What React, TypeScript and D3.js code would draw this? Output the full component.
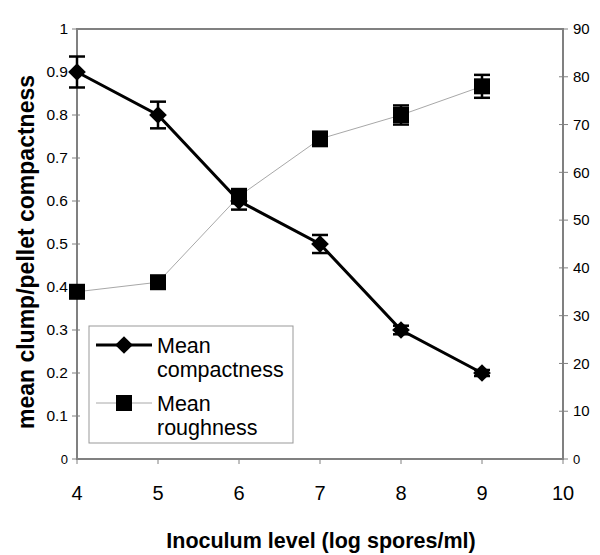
import * as d3 from "d3";

const inoculum = [4, 5, 6, 7, 8, 9];
const compactness = [0.9, 0.8, 0.6, 0.5, 0.3, 0.2];
const compactnessErr = [0.036, 0.031, 0.02, 0.021, 0.01, 0.007];
const roughness = [35, 37, 55, 67, 72, 78];
const roughnessErr = [0, 0, 1.5, 1.5, 2, 2.4];
const xTicks = [4, 5, 6, 7, 8, 9, 10];
const leftTicks = [0, 0.1, 0.2, 0.3, 0.4, 0.5, 0.6, 0.7, 0.8, 0.9, 1];
const rightTicks = [0, 10, 20, 30, 40, 50, 60, 70, 80, 90];

const W = 600;
const H = 555;
const PLOT = { left: 77, right: 563, top: 29, bottom: 459 };
const FONT = "Liberation Sans, Arial, sans-serif";
const FRAME = "#808080";

const x = d3.scaleLinear().domain([4, 10]).range([PLOT.left, PLOT.right]);
const yL = d3.scaleLinear().domain([0, 1]).range([PLOT.bottom, PLOT.top]);
const yR = d3.scaleLinear().domain([0, 90]).range([PLOT.bottom, PLOT.top]);

const diamond = d3.symbol().type(d3.symbolDiamond2).size(200);

function ErrorBar({ cx, y1, y2, cap }: { cx: number; y1: number; y2: number; cap: number }) {
  return (
    <g stroke="#000" strokeWidth={2.5}>
      <line x1={cx} x2={cx} y1={y1} y2={y2} />
      <line x1={cx - cap} x2={cx + cap} y1={y1} y2={y1} />
      <line x1={cx - cap} x2={cx + cap} y1={y2} y2={y2} />
    </g>
  );
}

export default function App() {
  const cLine = d3
    .line<number>()
    .x((_, i) => x(inoculum[i]))
    .y((d) => yL(d))(compactness);
  const rLine = d3
    .line<number>()
    .x((_, i) => x(inoculum[i]))
    .y((d) => yR(d))(roughness);

  const legend = { x: 89, y: 326, w: 204, h: 117 };

  return (
    <svg
      width={W}
      height={H}
      style={{ position: "absolute", left: 0, top: 0, background: "#fff" }}
      fontFamily={FONT}
    >
      {/* frame */}
      <rect
        x={PLOT.left}
        y={PLOT.top}
        width={PLOT.right - PLOT.left}
        height={PLOT.bottom - PLOT.top}
        fill="#fff"
        stroke={FRAME}
        strokeWidth={2}
      />

      {/* left axis */}
      {leftTicks.map((t) => (
        <g key={"l" + t}>
          <line x1={PLOT.left - 5} x2={PLOT.left + 3} y1={yL(t)} y2={yL(t)} stroke={FRAME} />
          <text
            x={PLOT.left - 9}
            y={yL(t)}
            dy="0.35em"
            textAnchor="end"
            fontSize={t === 0 ? 13 : 15.5}
            fill="#000"
          >
            {d3.format("~g")(t)}
          </text>
        </g>
      ))}

      {/* right axis */}
      {rightTicks.map((t) => (
        <g key={"r" + t}>
          <line x1={PLOT.right - 4} x2={PLOT.right + 5} y1={yR(t)} y2={yR(t)} stroke={FRAME} />
          <text
            x={PLOT.right + 10}
            y={yR(t)}
            dy="0.35em"
            textAnchor="start"
            fontSize={t === 0 ? 13 : 15}
            fill="#000"
          >
            {t}
          </text>
        </g>
      ))}

      {/* bottom axis */}
      {xTicks.map((t) => (
        <g key={"x" + t}>
          <line x1={x(t)} x2={x(t)} y1={PLOT.bottom} y2={PLOT.bottom + 5} stroke={FRAME} />
          <text x={x(t)} y={500} textAnchor="middle" fontSize={20} fill="#000">
            {t}
          </text>
        </g>
      ))}

      {/* series lines */}
      <path d={rLine ?? ""} fill="none" stroke="#a8a8a8" strokeWidth={1} />
      <path d={cLine ?? ""} fill="none" stroke="#000" strokeWidth={3} />

      {/* compactness markers + error bars */}
      {compactness.map((v, i) => (
        <g key={"c" + i}>
          <ErrorBar
            cx={x(inoculum[i])}
            y1={yL(v + compactnessErr[i])}
            y2={yL(v - compactnessErr[i])}
            cap={8}
          />
          <path d={diamond() ?? ""} transform={`translate(${x(inoculum[i])},${yL(v)})`} fill="#000" />
        </g>
      ))}

      {/* roughness markers + error bars */}
      {roughness.map((v, i) => (
        <g key={"r" + i}>
          <rect x={x(inoculum[i]) - 8} y={yR(v) - 8} width={16} height={16} fill="#000" />
          {roughnessErr[i] > 0 && (
            <ErrorBar
              cx={x(inoculum[i])}
              y1={yR(v + roughnessErr[i])}
              y2={yR(v - roughnessErr[i])}
              cap={8}
            />
          )}
        </g>
      ))}

      {/* legend */}
      <rect x={legend.x} y={legend.y} width={legend.w} height={legend.h} fill="#fff" stroke="#999" strokeWidth={1} />
      <line x1={96} x2={152} y1={345} y2={345} stroke="#000" strokeWidth={3} />
      <path d={diamond() ?? ""} transform="translate(124,345)" fill="#000" />
      <text x={157} y={345} dy="0.35em" fontSize={21.5}>Mean</text>
      <text x={157} y={369} dy="0.35em" fontSize={21.5}>compactness</text>
      <line x1={96} x2={152} y1={403} y2={403} stroke="#a8a8a8" strokeWidth={1} />
      <rect x={116} y={395} width={16} height={16} fill="#000" />
      <text x={157} y={403} dy="0.35em" fontSize={21.5}>Mean</text>
      <text x={157} y={427} dy="0.35em" fontSize={21.5}>roughness</text>

      {/* axis titles */}
      <text
        transform="translate(34,252) rotate(-90)"
        textAnchor="middle"
        fontSize={23}
        fontWeight="bold"
      >
        mean clump/pellet compactness
      </text>
      <text x={321} y={548} textAnchor="middle" fontSize={21.5} fontWeight="bold">
        Inoculum level (log spores/ml)
      </text>
    </svg>
  );
}
